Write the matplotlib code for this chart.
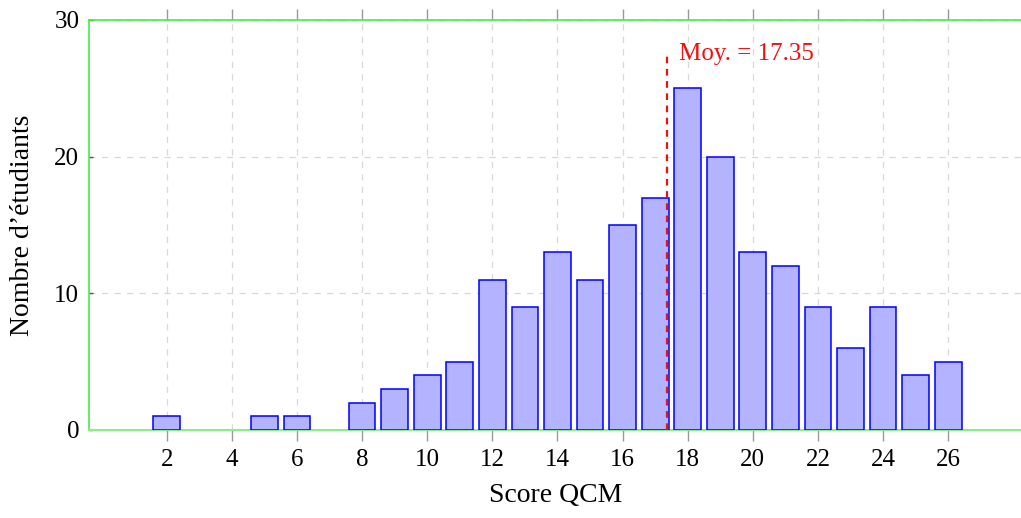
import matplotlib
matplotlib.use("Agg")
import matplotlib.pyplot as plt

scores = [2, 5, 6, 8, 9, 10, 11, 12, 13, 14, 15, 16, 17, 18, 19, 20, 21, 22, 23, 24, 25, 26]
counts = [1, 1, 1, 2, 3, 4, 5, 11, 9, 13, 11, 15, 17, 25, 20, 13, 12, 9, 6, 9, 4, 5]
mean_score = 17.35
xticks = list(range(2, 27, 2))
yticks = [0, 10, 20, 30]

plt.rcParams['font.family'] = ['Liberation Serif', 'DejaVu Serif']

fig = plt.figure(figsize=(10.21, 5.18), dpi=100)
ax = fig.add_axes([89/1021, 1-430/518, 1 - 89/1021 + 0.002, (430-20)/518])

ax.bar(scores, counts, width=0.82, color='#b3b3ff', edgecolor='#0000ff', linewidth=1.1, zorder=3)

ax.plot([mean_score, mean_score], [0, 27.4], color='#ee1111', linestyle=(0, (3, 2.5)), linewidth=1.6, zorder=4)
ax.text(17.72, 27.5, f"Moy. = {mean_score:.2f}", color='#ee1111', fontsize=18, va='center', ha='left')

ax.set_xlim(-0.39, 28.3)
ax.set_ylim(0, 30)
ax.set_xticks(xticks)
ax.set_yticks(yticks)
ax.tick_params(axis='x', direction='out', length=8, width=1, color='#999999', labelsize=18, top=True, pad=6)
ax.tick_params(axis='y', direction='in', length=3, width=1, color='#555555', labelsize=18, pad=7)

ax.grid(True, color='#d8d8d8', linestyle=(0, (5, 5)), linewidth=0.9, zorder=0)
ax.set_axisbelow(True)

for side in ['left', 'top']:
    ax.spines[side].set_color('#44ee44')
    ax.spines[side].set_linewidth(1.2)
ax.spines['bottom'].set_color('#88ee88')
ax.spines['bottom'].set_linewidth(1.5)
ax.spines['right'].set_visible(False)

ax.set_xlabel("Score QCM", fontsize=20, labelpad=8)
ax.set_ylabel("Nombre d’étudiants", fontsize=20, labelpad=14)

fig.savefig("out.png", dpi=100)
